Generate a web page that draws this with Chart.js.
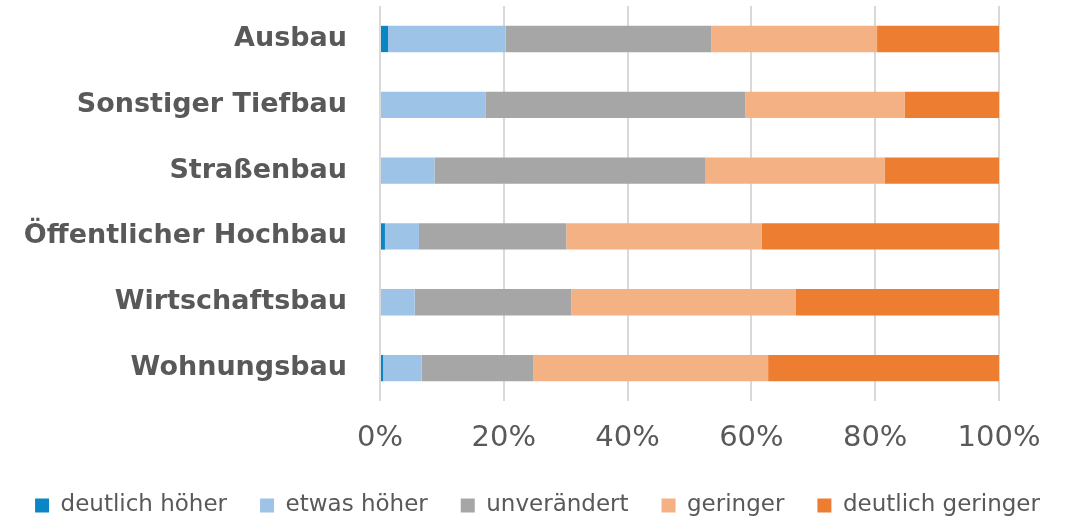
<!DOCTYPE html>
<html>
<head>
<meta charset="utf-8">
<script src="https://cdn.jsdelivr.net/npm/chart.js@4"></script>
<style>
  html, body { margin: 0; padding: 0; background: #fff; }
  #wrap { width: 1075px; height: 523px; }
</style>
</head>
<body>
<div id="wrap"><canvas id="myChart" width="1075" height="523"></canvas></div>
<script>
const categories = ['Ausbau', 'Sonstiger Tiefbau', 'Straßenbau', 'Öffentlicher Hochbau', 'Wirtschaftsbau', 'Wohnungsbau'];

const deutlichHoeher   = [1.3, 0,    0,    0.8,  0,    0.5];
const etwasHoeher      = [19.0, 17.1, 8.8, 5.5,  5.6,  6.2];
const unveraendert     = [33.2, 41.9, 43.8, 23.8, 25.3, 18.1];
const geringer         = [26.8, 25.8, 28.9, 31.6, 36.3, 37.9];
const deutlichGeringer = [19.7, 15.2, 18.5, 38.3, 32.8, 37.3];

const seriesNames = ['deutlich höher', 'etwas höher', 'unverändert', 'geringer', 'deutlich geringer'];
const seriesColors = ['#0a86c6', '#9dc3e6', '#a6a6a6', '#f4b183', '#ed7d31'];
const seriesData = [deutlichHoeher, etwasHoeher, unveraendert, geringer, deutlichGeringer];

const textColor = '#595959';
const fontFam = '"DejaVu Sans", sans-serif';

var ctx = document.getElementById('myChart').getContext('2d');
let myChart = new Chart(ctx, {
  type: 'bar',
  data: {
    labels: categories,
    datasets: seriesData.map((d, i) => ({
      label: seriesNames[i],
      data: d,
      backgroundColor: seriesColors[i],
      borderWidth: 0,
      categoryPercentage: 1,
      barPercentage: 0.4
    }))
  },
  options: {
    indexAxis: 'y',
    responsive: false,
    animation: false,
    layout: { padding: { top: 0, right: 0, left: 0, bottom: -4 } },
    scales: {
      x: {
        stacked: true,
        min: 0,
        max: 100,
        ticks: {
          stepSize: 20,
          callback: v => v + '%',
          color: textColor,
          font: { family: fontFam, size: 29 },
          padding: 20
        },
        grid: { color: '#d9d9d9', lineWidth: 2, drawTicks: false },
        border: { display: false },
        // fixed height, right room for the "100%" label
        afterFit: s => { s.height = 60; s.paddingRight = 76; s.paddingLeft = 0; }
      },
      y: {
        stacked: true,
        ticks: {
          color: textColor,
          font: { family: fontFam, size: 27, weight: 'bold', lineHeight: 0.45 },
          padding: 0
        },
        // invisible tick marks used as gap between labels and bars
        grid: { display: true, color: 'transparent', drawOnChartArea: false, drawTicks: true, tickLength: 33 },
        border: { display: false },
        afterFit: s => { s.width = 380; }
      }
    },
    plugins: {
      legend: {
        position: 'bottom',
        labels: {
          color: textColor,
          font: { family: fontFam, size: 23 },
          boxWidth: 14,
          boxHeight: 14,
          padding: 33
        }
      },
      tooltip: { enabled: false }
    }
  }
});
</script>
</body>
</html>
